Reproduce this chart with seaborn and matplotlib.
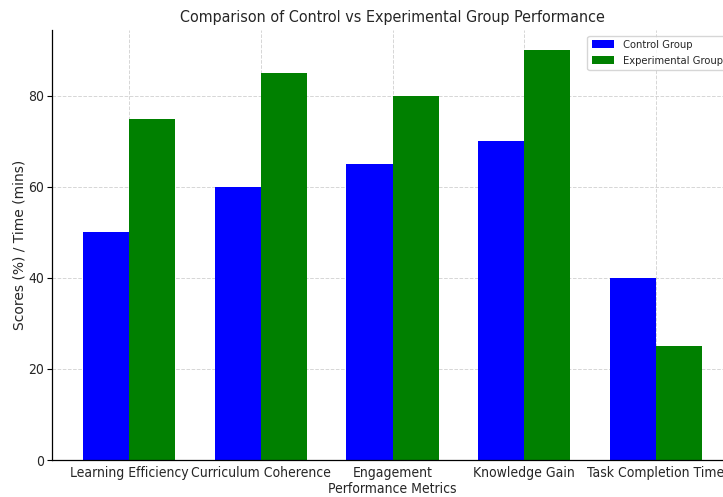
import matplotlib
matplotlib.use("Agg")
import matplotlib.pyplot as plt
import seaborn as sns
import pandas as pd

categories = ["Learning Efficiency", "Curriculum Coherence", "Engagement", "Knowledge Gain", "Task Completion Time"]
control = [50, 60, 65, 70, 40]
experimental = [75, 85, 80, 90, 25]
groups = ["Control Group", "Experimental Group"]
colors = ["blue", "green"]

df = pd.DataFrame({
    "Metric": categories * 2,
    "Value": control + experimental,
    "Group": [groups[0]] * len(categories) + [groups[1]] * len(categories),
})

sns.set_style("white")
plt.rcParams["font.family"] = ["DejaVu Sans"]
plt.rcParams["font.stretch"] = "condensed"

fig = plt.figure(figsize=(7.23, 4.97), dpi=100)
ax = fig.add_axes([52 / 723, 37 / 497, (733 - 52) / 723, (460 - 30) / 497])

sns.barplot(data=df, x="Metric", y="Value", hue="Group", palette=colors,
            width=0.7, saturation=1, ax=ax, errorbar=None, linewidth=0)

ax.set_xlim(-0.585, 4.585)
ax.set_ylim(0, 94.5)
ax.set_axisbelow(True)
ax.grid(True, linestyle="--", color="#cccccc", linewidth=0.7, alpha=0.8)
for s in ["top", "right"]:
    ax.spines[s].set_visible(False)
for s in ["left", "bottom"]:
    ax.spines[s].set_color("black")
    ax.spines[s].set_linewidth(0.9)

ax.tick_params(axis="y", labelsize=10, length=3.5, color="black", left=True, pad=2)
ax.tick_params(axis="x", labelsize=10, length=0, pad=4)
ax.set_yticks([0, 20, 40, 60, 80])
ax.set_title("Comparison of Control vs Experimental Group Performance", fontsize=11.5, pad=6)
ax.set_xlabel("Performance Metrics", fontsize=10, labelpad=2)
ax.set_ylabel("Scores (%) / Time (mins)", fontsize=10, fontstretch="normal")
ax.yaxis.set_label_coords((27 - 52) / 681, 0.5)
ax.legend(loc="upper right", fontsize=8, title=None, frameon=True)

fig.savefig("out.png", dpi=100)
